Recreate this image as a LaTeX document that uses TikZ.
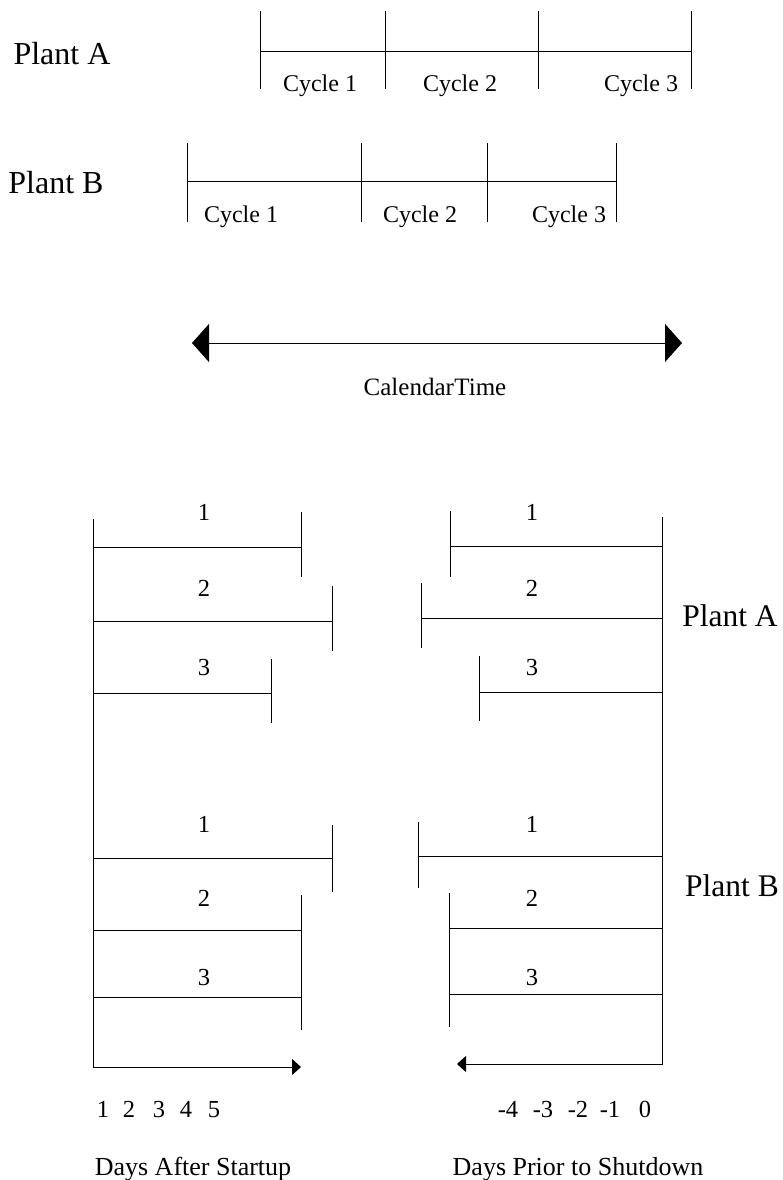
\documentclass[tikz,border=0pt]{standalone}
\usepackage{fontspec}
\setmainfont{Liberation Serif}
\usetikzlibrary{arrows.meta}
\begin{document}
\begin{tikzpicture}[x=1pt,y=-1pt,
  ln/.style={line width=1pt,black},
  plant/.style={font=\fontsize{32}{32}\selectfont,anchor=base,inner sep=0pt},
  cyc/.style={font=\fontsize{24}{24}\selectfont,anchor=base,inner sep=0pt},
  num/.style={font=\fontsize{24.5}{24.5}\selectfont,anchor=base,inner sep=0pt},
  axislbl/.style={font=\fontsize{26}{26}\selectfont,anchor=base,inner sep=0pt},
  bigarrow/.style={ln,{Triangle[length=17pt,width=38pt]}-{Triangle[length=17pt,width=38pt]}},
  smallarrow/.style={ln,-{Triangle[length=9pt,width=16pt]}}]
\useasboundingbox (0,0) rectangle (782,1180);

% ---------- top: calendar timelines ----------
\node[plant] (pA) at (62,65) {Plant A};
\coordinate (A0) at (260,52); \coordinate (A3) at (691,52);
\draw[ln] (A0) -- (A3);
\foreach \x in {260,385,538,691} \draw[ln] (\x,11) -- (\x,89);
\node[cyc] (ac1) at (320,92) {Cycle 1};
\node[cyc] (ac2) at (460,92) {Cycle 2};
\node[cyc] (ac3) at (641,92) {Cycle 3};

\node[plant] (pB) at (56,193) {Plant B};
\coordinate (B0) at (187,181); \coordinate (B3) at (616,181);
\draw[ln] (B0) -- (B3);
\foreach \x in {187,361,487,616} \draw[ln] (\x,143) -- (\x,222);
\node[cyc] (bc1) at (241,222) {Cycle 1};
\node[cyc] (bc2) at (420,222) {Cycle 2};
\node[cyc] (bc3) at (569,222) {Cycle 3};

% ---------- calendar arrow ----------
\coordinate (calL) at (192,343); \coordinate (calR) at (682,343);
\draw[bigarrow] (calL) -- (calR);
\node[axislbl,font=\fontsize{25}{25}\selectfont] (cal) at (435,395) {Calendar\kern0.5pt Time};

% ---------- bottom left: days after startup ----------
\coordinate (LT) at (93,519); \coordinate (LE) at (301,1067);
\draw[smallarrow] (LT) |- (LE);
% plant A
\draw[ln] (93,547) -- (301,547); \draw[ln] (301,512) -- (301,577);
\draw[ln] (93,621) -- (332,621); \draw[ln] (332,586) -- (332,651);
\draw[ln] (93,693) -- (271,693); \draw[ln] (271,659) -- (271,723);
% plant B
\draw[ln] (93,858) -- (332,858); \draw[ln] (332,825) -- (332,892);
\draw[ln] (93,930) -- (301,930); \draw[ln] (301,895) -- (301,1030);
\draw[ln] (93,997) -- (301,997);
\node[num] (l1) at (204,520) {1};
\node[num] (l2) at (204,596) {2};
\node[num] (l3) at (204,675) {3};
\node[num] (l4) at (204,832) {1};
\node[num] (l5) at (204,906) {2};
\node[num] (l6) at (204,985) {3};
\foreach \x/\t [count=\i] in {103/1,129/2,159/3,186/4,214/5}
  \node[num] (d\i) at (\x,1117) {\t};
\node[axislbl] (das) at (193,1175) {Days After Startup};

% ---------- bottom right: days prior to shutdown ----------
\coordinate (RT) at (662,517); \coordinate (RE) at (457,1064);
\draw[smallarrow] (RT) |- (RE);
% plant A
\draw[ln] (450,546) -- (662,546); \draw[ln] (450,511) -- (450,577);
\draw[ln] (421,618) -- (662,618); \draw[ln] (421,583) -- (421,648);
\draw[ln] (479,692) -- (662,692); \draw[ln] (479,656) -- (479,721);
% plant B
\draw[ln] (418,856) -- (662,856); \draw[ln] (418,822) -- (418,888);
\draw[ln] (449,928) -- (662,928); \draw[ln] (449,893) -- (449,1027);
\draw[ln] (449,994) -- (662,994);
\node[num] (r1) at (532,520) {1};
\node[num] (r2) at (532,596) {2};
\node[num] (r3) at (532,675) {3};
\node[num] (r4) at (532,832) {1};
\node[num] (r5) at (532,906) {2};
\node[num] (r6) at (532,985) {3};
\foreach \x/\t [count=\i] in {508/-4,543/-3,578/-2,610/-1,645/0}
  \node[num] (e\i) at (\x,1117) {\t};
\node[axislbl] (dps) at (578,1175) {Days Prior to Shutdown};

\node[plant,font=\fontsize{31.5}{31.5}\selectfont] (pA2) at (730,626) {Plant A};
\node[plant,font=\fontsize{31.5}{31.5}\selectfont] (pB2) at (732,896) {Plant B};
\end{tikzpicture}
\end{document}
